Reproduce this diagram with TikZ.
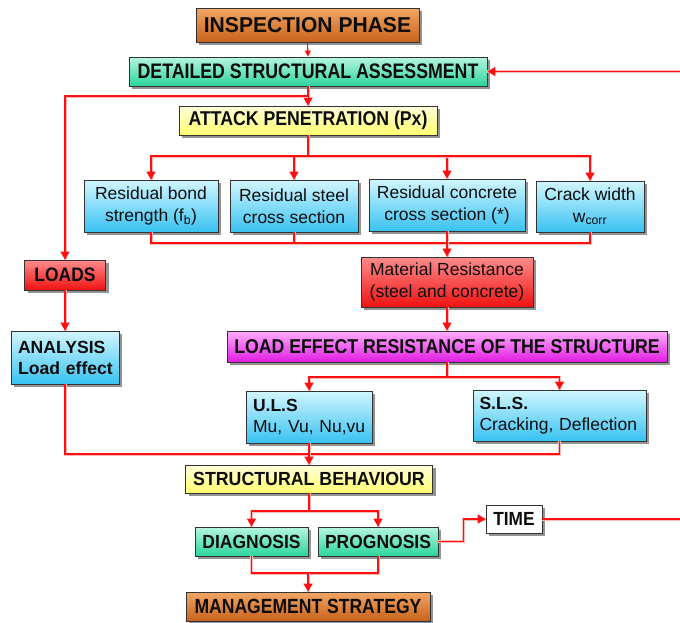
\documentclass[tikz,border=0pt]{standalone}
\usepackage{fontspec}
\setmainfont{Liberation Sans}
\usepackage{graphicx}
\usetikzlibrary{arrows.meta,shadows}

% box fills: light top, saturated bottom
\definecolor{orgT}{HTML}{F2A665}
\definecolor{orgB}{HTML}{C8621A}
\definecolor{grnT}{HTML}{B6F6DE}
\definecolor{grnB}{HTML}{2CD49E}
\definecolor{yelT}{HTML}{FFFFDA}
\definecolor{yelB}{HTML}{FFFF6E}
\definecolor{cynT}{HTML}{D2F6FF}
\definecolor{cynB}{HTML}{38C2F2}
\definecolor{redT}{HTML}{FF8C8C}
\definecolor{redB}{HTML}{F01212}
\definecolor{magT}{HTML}{FFAEFF}
\definecolor{magB}{HTML}{E01CE0}
\definecolor{flow}{HTML}{FF1010}

% horizontally condensed label
\newcommand\hsq[2]{\scalebox{#1}[1]{#2}}

\begin{document}
\begin{tikzpicture}[x=1pt,y=-1pt,
  box/.style={rectangle, draw=black!80, line width=0.8pt, inner sep=0pt,
    text=black!95,
    drop shadow={shadow xshift=3pt, shadow yshift=-3pt, fill=black!50, opacity=0.85}},
  sz/.style 2 args={minimum width=#1, minimum height=#2},
  orangebox/.style={box, top color=orgT, bottom color=orgB},
  greenbox/.style={box, top color=grnT, bottom color=grnB},
  yellowbox/.style={box, top color=yelT, bottom color=yelB},
  cyanbox/.style={box, top color=cynT, bottom color=cynB},
  redbox/.style={box, top color=redT, bottom color=redB},
  magbox/.style={box, top color=magT, bottom color=magB},
  whitebox/.style={box, fill=white},
  hd/.style={font=\fontsize{#1}{#1}\selectfont\bfseries},
  rg/.style={font=\fontsize{17.5}{21.5}\selectfont, align=center},
  lf/.style={font=\fontsize{17.5}{21}\selectfont, align=left,
    text width=#1, inner xsep=7pt},
  ln/.style={draw=flow, line width=1.6pt,
    preaction={draw=red!28, line width=3pt, arrows=-}},
  arr/.style={ln, -{Triangle[length=8pt,width=9pt]}},
  thinarr/.style={draw=flow, line width=1.1pt, -{Triangle[length=6pt,width=6pt]}}
]
\useasboundingbox (0,0) rectangle (680,622);

% boxes
\node[orangebox, sz={223}{34}, hd=21.5] (insp) at (307.5,25) {\hsq{0.98}{INSPECTION PHASE}};
\node[greenbox, sz={358}{29}, hd=21] (det) at (308,71.5) {\hsq{0.845}{DETAILED STRUCTURAL ASSESSMENT}};
\node[yellowbox, sz={258}{29}, hd=20] (att) at (308,120.5) {\hsq{0.885}{ATTACK PENETRATION (Px)}};

\node[cyanbox, sz={134}{52}, rg] (bond) at (151,206) {Residual bond\\strength (f\textsubscript{b})};
\node[cyanbox, sz={128}{52}, rg] (steel) at (294,206) {Residual steel\\cross section};
\node[cyanbox, sz={156}{52}, rg] (conc) at (447,205) {Residual concrete\\cross section (*)};
\node[cyanbox, sz={108}{51}, rg] (crack) at (590,206.5) {Crack width\\w\textsubscript{corr}};

\node[redbox, sz={81}{30}, hd=19.5] (loads) at (65,275) {\hsq{0.894}{LOADS}};
\node[redbox, sz={172}{50}, rg] (mat) at (447,282) {Material Resistance\\(steel and concrete)};

\node[cyanbox, sz={108}{53}, font=\fontsize{17.6}{21}\selectfont\bfseries, align=left,
  text width=94pt, inner xsep=7pt] (anal) at (65,357.5)
  {\mbox{ANALYSIS}\\\mbox{Load effect}};
\node[magbox, sz={440}{31}, hd=20] (leff) at (447,346.5) {\hsq{0.885}{LOAD EFFECT RESISTANCE OF THE STRUCTURE}};

\node[cyanbox, sz={126}{52}, lf=112pt] (uls) at (309,417)
  {\mbox{\textbf{U.L.S}}\\\mbox{Mu, Vu, Nu,vu}};
\node[cyanbox, sz={173}{51}, lf=160pt, inner xsep=6.5pt] (sls) at (559.5,415.5)
  {\mbox{\textbf{S.L.S.}}\\\mbox{Cracking, Deflection}};

\node[yellowbox, sz={247}{28}, hd=19] (str) at (309,479) {\hsq{0.935}{STRUCTURAL BEHAVIOUR}};
\node[greenbox, sz={113}{29}, hd=19] (diag) at (251.5,541.5) {\hsq{0.92}{DIAGNOSIS}};
\node[greenbox, sz={120}{29}, hd=19] (prog) at (378,541.5) {\hsq{0.92}{PROGNOSIS}};
\node[whitebox, sz={56}{28}, hd=19] (time) at (514,519) {\hsq{0.91}{TIME}};
\node[orangebox, sz={244}{29}, hd=20.5] (mgmt) at (308,606.5) {\hsq{0.856}{MANAGEMENT STRATEGY}};

% junction points and free ends
\coordinate (jA) at (308,96);
\coordinate (jB) at (308,156);
\coordinate (jC) at (447,243);
\coordinate (jD) at (447,377);
\coordinate (jE) at (309,454);
\coordinate (jF) at (309,511);
\coordinate (jG) at (308,573);
\coordinate (rA) at (680,71.5);
\coordinate (rB) at (680,519);

% connectors
\draw[thinarr] (insp.south) -- (det.north);
\draw[arr] (rA) -- (det.east);
\draw[arr] (det.south) -- (att.north);
\draw[arr] (jA) -| (loads.north);

\draw[ln] (att.south) -- (jB);
\draw[arr] (jB) -| (bond.north);
\draw[arr] (jB) -| (steel.north);
\draw[arr] (jB) -| (conc.north);
\draw[arr] (jB) -| (crack.north);

\draw[ln] (bond.south) |- (jC);
\draw[ln] (steel.south) |- (jC);
\draw[ln] (crack.south) |- (jC);
\draw[arr] (conc.south) -- (mat.north);

\draw[arr] (loads.south) -- (anal.north);
\draw[arr] (mat.south) -- (leff.north);

\draw[ln] (leff.south) -- (jD);
\draw[arr] (jD) -| (uls.north);
\draw[arr] (jD) -| (sls.north);

\draw[ln] (anal.south) |- (jE);
\draw[ln] (sls.south) |- (jE);
\draw[arr] (uls.south) -- (str.north);

\draw[ln] (str.south) -- (jF);
\draw[arr] (jF) -| (diag.north);
\draw[arr] (jF) -| (prog.north);

\draw[ln] (diag.south) |- (jG);
\draw[ln] (prog.south) |- (jG);
\draw[arr] (jG) -- (mgmt.north);

\draw[arr] (prog.east) -- ++(25,0) |- (time.west);
\draw[ln] (time.east) -- (rB);
\end{tikzpicture}
\end{document}
